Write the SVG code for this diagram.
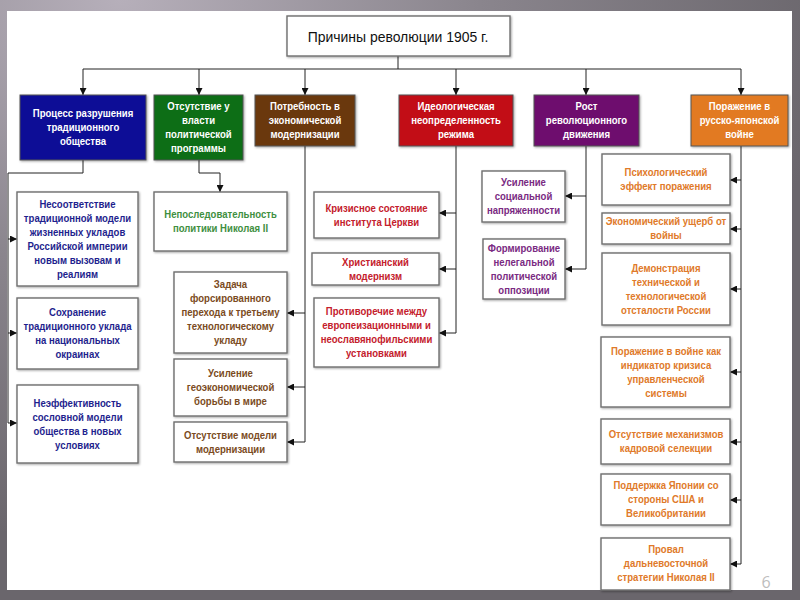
<svg xmlns="http://www.w3.org/2000/svg" width="800" height="600" viewBox="0 0 800 600">
<defs>
<radialGradient id="bg" cx="0.15" cy="0" r="0.9">
<stop offset="0" stop-color="#b6afba"/>
<stop offset="0.5" stop-color="#8a858d"/>
<stop offset="1" stop-color="#6a666c"/>
</radialGradient>
<filter id="sh" x="-10%" y="-10%" width="130%" height="130%">
<feDropShadow dx="1" dy="1" stdDeviation="0.8" flood-color="#000" flood-opacity="0.35"/>
</filter>
<marker id="ar" viewBox="0 0 8 8" refX="8" refY="4" markerWidth="7" markerHeight="7" markerUnits="userSpaceOnUse" orient="auto">
<path d="M0,0 L8,4 L0,8 Z" fill="#111"/>
</marker>
</defs>
<style>
text{font-family:"Liberation Sans",Arial,sans-serif;font-weight:bold;font-size:11px;text-anchor:middle}
.box{fill:#fff;stroke:#6e6e6e;stroke-width:1.4;filter:url(#sh)}
.hd{stroke:#555;stroke-width:1;filter:url(#sh)}
.ht{fill:#fff}
.c{fill:none;stroke:#222;stroke-width:1}
.a{marker-end:url(#ar)}
.tb{fill:#1f1f8e}.tg{fill:#3f8f3f}.tbr{fill:#7b4b22}.tr{fill:#c4202c}.tp{fill:#7a2a82}.to{fill:#e07a2a}
</style>
<rect width="800" height="600" fill="url(#bg)"/>
<rect x="7" y="11" width="785" height="579" fill="#fff"/>

<g id="connectors">
<path class="c" d="M398,56 V69 M83,69 H741"/>
<path class="c a" d="M83,69 V95"/><path class="c a" d="M199,69 V95"/><path class="c a" d="M305,69 V95"/>
<path class="c a" d="M456,69 V95"/><path class="c a" d="M586,69 V95"/><path class="c a" d="M741,69 V95"/>
<path class="c" d="M83,160 V173 H8 V423"/>
<path class="c a" d="M8,239 H17"/><path class="c a" d="M8,333 H17"/><path class="c a" d="M8,423 H17"/>
<path class="c a" d="M199,160 V173 H220 V192"/>
<path class="c" d="M305,146 V442"/>
<path class="c a" d="M305,313 H287"/><path class="c a" d="M305,387 H287"/><path class="c a" d="M305,442 H287"/>
<path class="c" d="M456,146 V333"/>
<path class="c a" d="M456,213 H439"/><path class="c a" d="M456,269 H439"/><path class="c a" d="M456,333 H439"/>
<path class="c" d="M586,146 V269"/>
<path class="c a" d="M586,196 H565"/><path class="c a" d="M586,269 H565"/>
<path class="c" d="M741,146 V564"/>
<path class="c a" d="M741,180 H730"/><path class="c a" d="M741,229 H730"/><path class="c a" d="M741,289 H730"/>
<path class="c a" d="M741,372 H730"/><path class="c a" d="M741,442 H730"/><path class="c a" d="M741,500 H730"/><path class="c a" d="M741,564 H730"/>
</g>

<g id="title">
<rect class="box" x="287" y="16" width="223" height="40"/>
<text transform="matrix(0.9,0,0,1,398,0)" x="0" y="42" style="font-size:15.5px;font-weight:normal;fill:#111">Причины революции 1905 г.</text>
</g>

<g id="h-blue">
<rect class="hd" x="20" y="95" width="126" height="65" fill="#0c0c96"/>
<text class="ht" transform="matrix(0.87,0,0,1,83,0)" y="117.5"><tspan x="0">Процесс разрушения</tspan><tspan x="0" dy="14">традиционного</tspan><tspan x="0" dy="14">общества</tspan></text>
</g>
<g id="h-green">
<rect class="hd" x="154" y="95" width="89" height="65" fill="#0b6e16"/>
<text class="ht" transform="matrix(0.87,0,0,1,198.5,0)" y="110.5"><tspan x="0">Отсутствие у</tspan><tspan x="0" dy="14">власти</tspan><tspan x="0" dy="14">политической</tspan><tspan x="0" dy="14">программы</tspan></text>
</g>
<g id="h-brown">
<rect class="hd" x="255" y="95" width="100" height="51" fill="#6b3810"/>
<text class="ht" transform="matrix(0.87,0,0,1,305,0)" y="110.5"><tspan x="0">Потребность в</tspan><tspan x="0" dy="14">экономической</tspan><tspan x="0" dy="14">модернизации</tspan></text>
</g>
<g id="h-red">
<rect class="hd" x="399" y="95" width="114" height="51" fill="#c20a14"/>
<text class="ht" transform="matrix(0.87,0,0,1,456,0)" y="110.5"><tspan x="0">Идеологическая</tspan><tspan x="0" dy="14">неопределенность</tspan><tspan x="0" dy="14">режима</tspan></text>
</g>
<g id="h-purple">
<rect class="hd" x="534" y="95" width="105" height="51" fill="#6e0e6e"/>
<text class="ht" transform="matrix(0.87,0,0,1,586.5,0)" y="110.5"><tspan x="0">Рост</tspan><tspan x="0" dy="14">революционного</tspan><tspan x="0" dy="14">движения</tspan></text>
</g>
<g id="h-orange">
<rect class="hd" x="691" y="95" width="97" height="51" fill="#e27a22"/>
<text class="ht" transform="matrix(0.87,0,0,1,739.5,0)" y="110.5"><tspan x="0">Поражение в</tspan><tspan x="0" dy="14">русско-японской</tspan><tspan x="0" dy="14">войне</tspan></text>
</g>

<g id="b1">
<rect class="box" x="17" y="192" width="121" height="94"/>
<text class="tb" transform="matrix(0.87,0,0,1,77.5,0)" y="208"><tspan x="0">Несоответствие</tspan><tspan x="0" dy="14">традиционной модели</tspan><tspan x="0" dy="14">жизненных укладов</tspan><tspan x="0" dy="14">Российской империи</tspan><tspan x="0" dy="14">новым вызовам и</tspan><tspan x="0" dy="14">реалиям</tspan></text>
</g>
<g id="b2">
<rect class="box" x="17" y="298" width="121" height="71"/>
<text class="tb" transform="matrix(0.87,0,0,1,77.5,0)" y="316.5"><tspan x="0">Сохранение</tspan><tspan x="0" dy="14">традиционного уклада</tspan><tspan x="0" dy="14">на национальных</tspan><tspan x="0" dy="14">окраинах</tspan></text>
</g>
<g id="b3">
<rect class="box" x="17" y="385" width="121" height="78"/>
<text class="tb" transform="matrix(0.87,0,0,1,77.5,0)" y="407"><tspan x="0">Неэффективность</tspan><tspan x="0" dy="14">сословной модели</tspan><tspan x="0" dy="14">общества в новых</tspan><tspan x="0" dy="14">условиях</tspan></text>
</g>

<g id="g1">
<rect class="box" x="154" y="192" width="133" height="59"/>
<text class="tg" transform="matrix(0.87,0,0,1,220.5,0)" y="218.5"><tspan x="0">Непоследовательность</tspan><tspan x="0" dy="14">политики Николая II</tspan></text>
</g>

<g id="br1">
<rect class="box" x="174" y="272" width="113" height="81"/>
<text class="tbr" transform="matrix(0.87,0,0,1,230.5,0)" y="288.5"><tspan x="0">Задача</tspan><tspan x="0" dy="14">форсированного</tspan><tspan x="0" dy="14">перехода к третьему</tspan><tspan x="0" dy="14">технологическому</tspan><tspan x="0" dy="14">укладу</tspan></text>
</g>
<g id="br2">
<rect class="box" x="174" y="359" width="113" height="57"/>
<text class="tbr" transform="matrix(0.87,0,0,1,230.5,0)" y="377.5"><tspan x="0">Усиление</tspan><tspan x="0" dy="14">геоэкономической</tspan><tspan x="0" dy="14">борьбы в мире</tspan></text>
</g>
<g id="br3">
<rect class="box" x="174" y="422" width="113" height="40"/>
<text class="tbr" transform="matrix(0.87,0,0,1,230.5,0)" y="439"><tspan x="0">Отсутствие модели</tspan><tspan x="0" dy="14">модернизации</tspan></text>
</g>

<g id="r1">
<rect class="box" x="314" y="192" width="125" height="46"/>
<text class="tr" transform="matrix(0.87,0,0,1,376.5,0)" y="212"><tspan x="0">Кризисное состояние</tspan><tspan x="0" dy="14">института Церкви</tspan></text>
</g>
<g id="r2">
<rect class="box" x="312" y="253" width="127" height="32"/>
<text class="tr" transform="matrix(0.87,0,0,1,375.5,0)" y="266"><tspan x="0">Христианский</tspan><tspan x="0" dy="14">модернизм</tspan></text>
</g>
<g id="r3">
<rect class="box" x="314" y="298" width="125" height="69"/>
<text class="tr" transform="matrix(0.87,0,0,1,376.5,0)" y="315.5"><tspan x="0">Противоречие между</tspan><tspan x="0" dy="14">европеизационными и</tspan><tspan x="0" dy="14">неославянофильскими</tspan><tspan x="0" dy="14">установками</tspan></text>
</g>

<g id="p1">
<rect class="box" x="482" y="171" width="83" height="51"/>
<text class="tp" transform="matrix(0.87,0,0,1,523.5,0)" y="186.5"><tspan x="0">Усиление</tspan><tspan x="0" dy="14">социальной</tspan><tspan x="0" dy="14">напряженности</tspan></text>
</g>
<g id="p2">
<rect class="box" x="483" y="239" width="82" height="60"/>
<text class="tp" transform="matrix(0.87,0,0,1,524,0)" y="252"><tspan x="0">Формирование</tspan><tspan x="0" dy="14">нелегальной</tspan><tspan x="0" dy="14">политической</tspan><tspan x="0" dy="14">оппозиции</tspan></text>
</g>

<g id="o1">
<rect class="box" x="602" y="154" width="128" height="51"/>
<text class="to" transform="matrix(0.87,0,0,1,666,0)" y="176.5"><tspan x="0">Психологический</tspan><tspan x="0" dy="14">эффект поражения</tspan></text>
</g>
<g id="o2">
<rect class="box" x="602" y="213" width="128" height="31"/>
<text class="to" transform="matrix(0.87,0,0,1,666,0)" y="225.5"><tspan x="0">Экономический ущерб от</tspan><tspan x="0" dy="14">войны</tspan></text>
</g>
<g id="o3">
<rect class="box" x="602" y="253" width="128" height="72"/>
<text class="to" transform="matrix(0.87,0,0,1,666,0)" y="272"><tspan x="0">Демонстрация</tspan><tspan x="0" dy="14">технической и</tspan><tspan x="0" dy="14">технологической</tspan><tspan x="0" dy="14">отсталости России</tspan></text>
</g>
<g id="o4">
<rect class="box" x="601" y="337" width="129" height="70"/>
<text class="to" transform="matrix(0.87,0,0,1,666,0)" y="355"><tspan x="0">Поражение в войне как</tspan><tspan x="0" dy="14">индикатор кризиса</tspan><tspan x="0" dy="14">управленческой</tspan><tspan x="0" dy="14">системы</tspan></text>
</g>
<g id="o5">
<rect class="box" x="601" y="419" width="129" height="45"/>
<text class="to" transform="matrix(0.87,0,0,1,666,0)" y="438.5"><tspan x="0">Отсутствие механизмов</tspan><tspan x="0" dy="14">кадровой селекции</tspan></text>
</g>
<g id="o6">
<rect class="box" x="601" y="474" width="129" height="51"/>
<text class="to" transform="matrix(0.87,0,0,1,666,0)" y="489.5"><tspan x="0">Поддержка Японии со</tspan><tspan x="0" dy="14">стороны США и</tspan><tspan x="0" dy="14">Великобритании</tspan></text>
</g>
<g id="o7">
<rect class="box" x="601" y="538" width="129" height="52"/>
<text class="to" transform="matrix(0.87,0,0,1,666,0)" y="553"><tspan x="0">Провал</tspan><tspan x="0" dy="14">дальневосточной</tspan><tspan x="0" dy="14">стратегии Николая II</tspan></text>
</g>

<text x="766" y="588" style="font-family:'Open Sans','Liberation Sans',sans-serif;font-weight:normal;font-size:16px;fill:#bdbdbd">6</text>
</svg>
